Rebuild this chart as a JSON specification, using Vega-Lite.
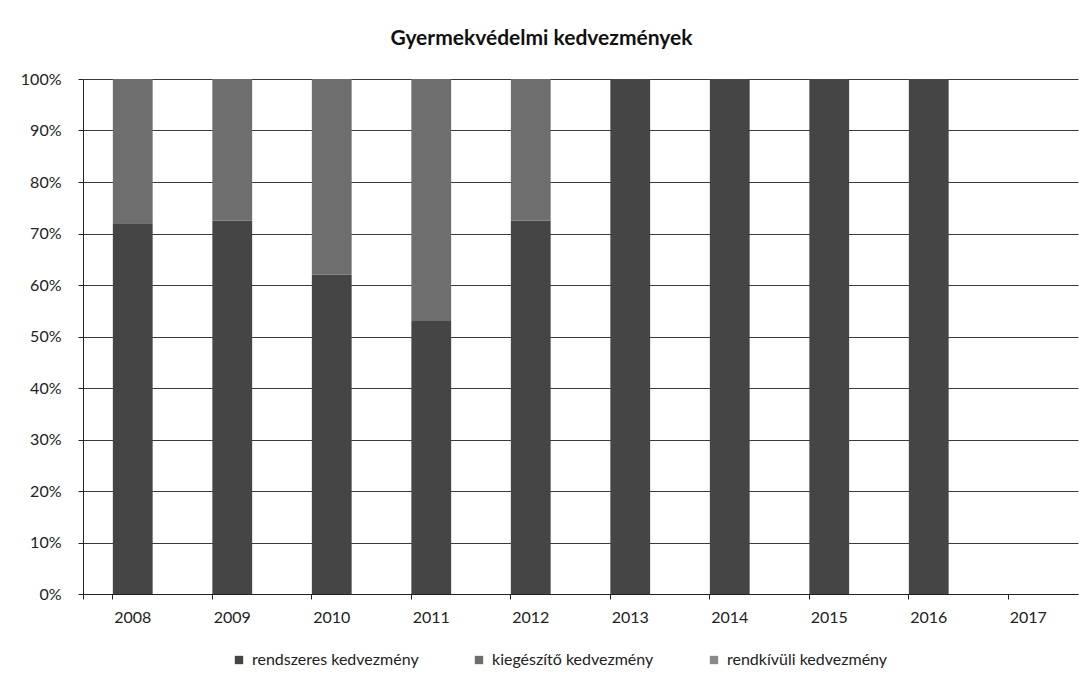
{
  "$schema": "https://vega.github.io/schema/vega-lite/v6.json",
  "width": 995,
  "height": 515,
  "autosize": {"type": "none"},
  "padding": {"left": 83, "top": 79, "right": 8, "bottom": 96},
  "background": "white",
  "title": {"text": "Gyermekvédelmi kedvezmények", "font": "Lato", "fontSize": 21, "fontWeight": "bold", "color": "#111", "anchor": "middle", "dx": -39, "offset": 22},
  "data": {"values": [
    {"ev": "2008", "sorozat": "rendszeres kedvezmény", "rend": 1, "arany": 72},
    {"ev": "2008", "sorozat": "kiegészítő kedvezmény", "rend": 2, "arany": 28},
    {"ev": "2008", "sorozat": "rendkívüli kedvezmény", "rend": 3, "arany": 0},
    {"ev": "2009", "sorozat": "rendszeres kedvezmény", "rend": 1, "arany": 72.5},
    {"ev": "2009", "sorozat": "kiegészítő kedvezmény", "rend": 2, "arany": 27.5},
    {"ev": "2009", "sorozat": "rendkívüli kedvezmény", "rend": 3, "arany": 0},
    {"ev": "2010", "sorozat": "rendszeres kedvezmény", "rend": 1, "arany": 62},
    {"ev": "2010", "sorozat": "kiegészítő kedvezmény", "rend": 2, "arany": 38},
    {"ev": "2010", "sorozat": "rendkívüli kedvezmény", "rend": 3, "arany": 0},
    {"ev": "2011", "sorozat": "rendszeres kedvezmény", "rend": 1, "arany": 53},
    {"ev": "2011", "sorozat": "kiegészítő kedvezmény", "rend": 2, "arany": 47},
    {"ev": "2011", "sorozat": "rendkívüli kedvezmény", "rend": 3, "arany": 0},
    {"ev": "2012", "sorozat": "rendszeres kedvezmény", "rend": 1, "arany": 72.5},
    {"ev": "2012", "sorozat": "kiegészítő kedvezmény", "rend": 2, "arany": 27.5},
    {"ev": "2012", "sorozat": "rendkívüli kedvezmény", "rend": 3, "arany": 0},
    {"ev": "2013", "sorozat": "rendszeres kedvezmény", "rend": 1, "arany": 100},
    {"ev": "2013", "sorozat": "kiegészítő kedvezmény", "rend": 2, "arany": 0},
    {"ev": "2013", "sorozat": "rendkívüli kedvezmény", "rend": 3, "arany": 0},
    {"ev": "2014", "sorozat": "rendszeres kedvezmény", "rend": 1, "arany": 100},
    {"ev": "2014", "sorozat": "kiegészítő kedvezmény", "rend": 2, "arany": 0},
    {"ev": "2014", "sorozat": "rendkívüli kedvezmény", "rend": 3, "arany": 0},
    {"ev": "2015", "sorozat": "rendszeres kedvezmény", "rend": 1, "arany": 100},
    {"ev": "2015", "sorozat": "kiegészítő kedvezmény", "rend": 2, "arany": 0},
    {"ev": "2015", "sorozat": "rendkívüli kedvezmény", "rend": 3, "arany": 0},
    {"ev": "2016", "sorozat": "rendszeres kedvezmény", "rend": 1, "arany": 100},
    {"ev": "2016", "sorozat": "kiegészítő kedvezmény", "rend": 2, "arany": 0},
    {"ev": "2016", "sorozat": "rendkívüli kedvezmény", "rend": 3, "arany": 0}
  ]},
  "mark": {"type": "bar"},
  "encoding": {
    "x": {
      "field": "ev", "type": "nominal",
      "scale": {"domain": ["2008","2009","2010","2011","2012","2013","2014","2015","2016","2017"], "paddingInner": 0.6, "paddingOuter": 0.3},
      "axis": {"title": null, "labelAngle": 0, "labelFont": "Lato", "labelFontSize": 16, "labelColor": "#222", "labelPadding": 10, "bandPosition": 0, "tickExtra": true, "ticks": true, "tickSize": 5, "tickColor": "#222", "domainColor": "#222", "grid": false}
    },
    "y": {
      "field": "arany", "type": "quantitative", "stack": "normalize",
      "scale": {"domain": [0, 1]},
      "axis": {"title": null, "format": "%", "values": [0,0.1,0.2,0.3,0.4,0.5,0.6,0.7,0.8,0.9,1], "labelFont": "Lato", "labelFontSize": 16, "labelColor": "#222", "labelPadding": 17, "tickSize": 5, "tickColor": "#222", "domainColor": "#222", "grid": true, "gridColor": "#3a3a3a", "gridWidth": 1.2}
    },
    "color": {
      "field": "sorozat", "type": "nominal",
      "scale": {"domain": ["rendszeres kedvezmény", "kiegészítő kedvezmény", "rendkívüli kedvezmény"], "range": ["#454545", "#6e6e6e", "#8a8a8a"]},
      "legend": {"title": null, "orient": "none", "legendX": 148, "legendY": 573, "direction": "horizontal", "symbolType": "square", "symbolSize": 70, "labelFont": "Lato", "labelFontSize": 16, "labelColor": "#222", "labelLimit": 400, "columnPadding": 52, "labelOffset": 5}
    },
    "order": {"field": "rend", "type": "quantitative"}
  },
  "config": {"view": {"stroke": null}}
}
